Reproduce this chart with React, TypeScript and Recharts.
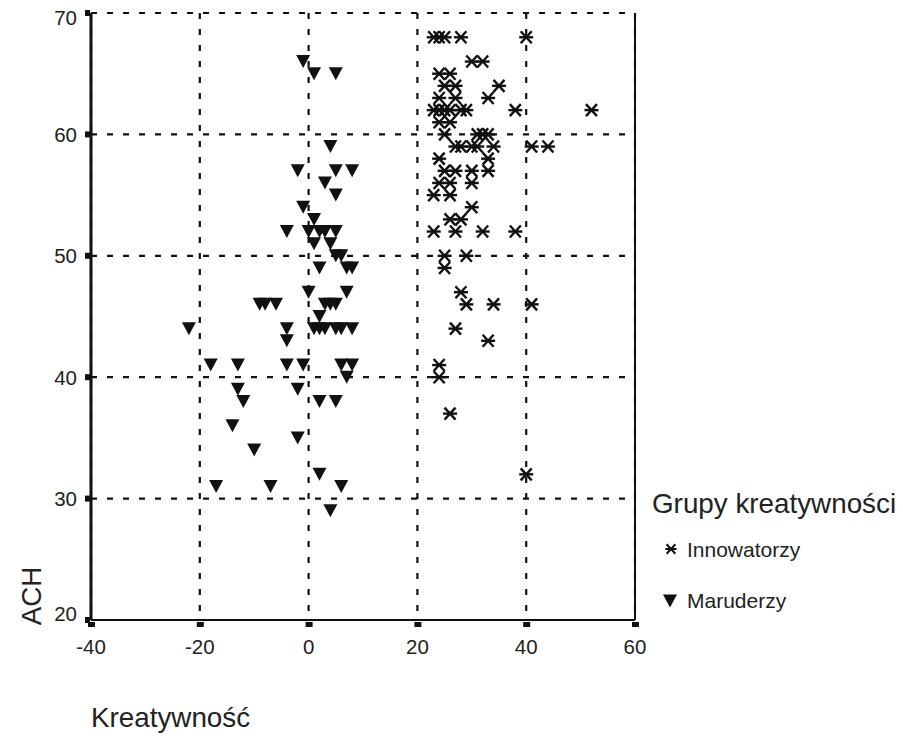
import React from 'react'
import {
  CartesianGrid,
  Legend,
  ReferenceLine,
  Scatter,
  ScatterChart,
  XAxis,
  YAxis,
} from 'recharts'

// Kreatywność (x) vs ACH (y)
const innowatorzy: [number, number][] = [
  [23, 68], [24, 68], [25, 68], [28, 68], [40, 68],
  [30, 66], [32, 66], [24, 65], [26, 65],
  [25, 64], [27, 64], [35, 64], [24, 63], [27, 63], [33, 63],
  [23, 62], [24, 62], [25, 62], [26, 62], [28, 62], [29, 62], [38, 62], [52, 62],
  [24, 61], [26, 61], [25, 60], [31, 60], [32, 60], [33, 60],
  [27, 59], [28, 59], [30, 59], [31, 59], [34, 59], [41, 59], [44, 59],
  [24, 58], [33, 58], [25, 57], [27, 57], [30, 57], [33, 57],
  [24, 56], [26, 56], [30, 56], [23, 55], [26, 55], [30, 54],
  [26, 53], [28, 53], [23, 52], [27, 52], [32, 52], [38, 52],
  [25, 50], [29, 50], [25, 49], [28, 47], [29, 46], [34, 46], [41, 46],
  [27, 44], [33, 43], [24, 41], [24, 40], [26, 37], [40, 32],
]

const maruderzy: [number, number][] = [
  [-1, 66], [1, 65], [5, 65], [4, 59], [-2, 57], [5, 57], [8, 57],
  [3, 56], [5, 55], [-1, 54], [1, 53],
  [-4, 52], [0, 52], [2, 52], [3, 52], [5, 52], [1, 51], [4, 51],
  [5, 50], [6, 50], [2, 49], [7, 49], [8, 49], [0, 47], [7, 47],
  [-9, 46], [-8, 46], [-6, 46], [3, 46], [4, 46], [5, 46], [2, 45],
  [-22, 44], [-4, 44], [1, 44], [2, 44], [3, 44], [5, 44], [6, 44], [8, 44],
  [-4, 43], [-18, 41], [-13, 41], [-4, 41], [-1, 41], [6, 41], [8, 41],
  [7, 40], [-13, 39], [-2, 39], [-12, 38], [2, 38], [5, 38],
  [-14, 36], [-2, 35], [-10, 34], [2, 32], [-17, 31], [-7, 31], [6, 31], [4, 29],
]

const xTicks = [-40, -20, 0, 20, 40, 60]
const yTicks = [20, 30, 40, 50, 60, 70]
const groupNames = ['Innowatorzy', 'Maruderzy']

const INK = '#111'
const FONT = '"Liberation Sans", Arial, sans-serif'

const toPoints = (arr: [number, number][]) => arr.map(([x, y]) => ({ x, y }))

function Asterisk({ cx, cy, small }: any) {
  const k = small ? 0.8 : 1
  return (
    <g stroke={INK} strokeWidth={small ? 2 : 2.4}>
      <line x1={cx - 7 * k} y1={cy} x2={cx + 7 * k} y2={cy} />
      <line x1={cx - 5.5 * k} y1={cy - 6 * k} x2={cx + 5.5 * k} y2={cy + 6 * k} />
      <line x1={cx - 5.5 * k} y1={cy + 6 * k} x2={cx + 5.5 * k} y2={cy - 6 * k} />
    </g>
  )
}

function Triangle({ cx, cy }: any) {
  return (
    <polygon
      points={`${cx - 7},${cy - 6.5} ${cx + 7},${cy - 6.5} ${cx},${cy + 6.5}`}
      fill={INK}
    />
  )
}

function XTick({ x, y, payload }: any) {
  return (
    <g>
      <rect x={x - 3} y={y + 2} width={7} height={5} fill={INK} />
      <text x={x} y={y + 34} textAnchor="middle" fontSize={20.5} fontFamily={FONT} fill="#222">
        {payload.value}
      </text>
    </g>
  )
}

function YTick({ x, y, payload }: any) {
  const shift = payload.value === 70 ? 5 : payload.value === 20 ? -6 : 0
  return (
    <g>
      <rect x={x - 6} y={y - 3} width={5} height={6} fill={INK} />
      <text
        x={x - 14}
        y={y + shift}
        dy="0.36em"
        textAnchor="end"
        fontSize={20.5}
        fontFamily={FONT}
        fill="#222"
      >
        {payload.value}
      </text>
    </g>
  )
}

function GroupLegend() {
  return (
    <svg width={263} height={150} style={{ display: 'block' }}>
      <text x={12} y={33} fontSize={27.8} fontFamily={FONT} fill="#222">
        Grupy kreatywności
      </text>
      <Asterisk cx={31} cy={69} small />
      <text x={47} y={77} fontSize={21} fontFamily={FONT} fill="#222">
        {groupNames[0]}
      </text>
      <Triangle cx={30} cy={121} />
      <text x={47} y={128} fontSize={21} fontFamily={FONT} fill="#222">
        {groupNames[1]}
      </text>
    </svg>
  )
}

export default function App() {
  return (
    <div style={{ position: 'absolute', left: 0, top: 0, width: 903, height: 736 }}>
      <ScatterChart
        width={903}
        height={736}
        margin={{ top: 13, left: 41, right: 268, bottom: 76 }}
      >
        <CartesianGrid stroke={INK} strokeWidth={2.2} strokeDasharray="6 10" />
        <XAxis
          type="number"
          dataKey="x"
          domain={[-40, 60]}
          ticks={xTicks}
          height={40}
          tickSize={0}
          tickMargin={0}
          tickLine={false}
          axisLine={{ stroke: INK, strokeWidth: 2 }}
          tick={XTick}
          label={{
            content: ({ viewBox }: any) => (
              <text
                x={viewBox.x}
                y={viewBox.y + 107}
                fontSize={27.8}
                fontFamily={FONT}
                fill="#222"
              >
                Kreatywność
              </text>
            ),
          }}
        />
        <YAxis
          type="number"
          dataKey="y"
          domain={[20, 70]}
          ticks={yTicks}
          width={50}
          tickSize={0}
          tickMargin={0}
          tickLine={false}
          axisLine={{ stroke: INK, strokeWidth: 3 }}
          tick={YTick}
          label={{
            content: () => (
              <text
                x={31}
                y={596}
                transform="rotate(-90 31 596)"
                textAnchor="middle"
                dominantBaseline="central"
                fontSize={27.8}
                fontFamily={FONT}
                fill="#222"
              >
                ACH
              </text>
            ),
          }}
        />
        <ReferenceLine x={60} stroke={INK} strokeWidth={2} ifOverflow="visible" />
        <Scatter
          name={groupNames[0]}
          data={toPoints(innowatorzy)}
          shape={Asterisk}
          isAnimationActive={false}
        />
        <Scatter
          name={groupNames[1]}
          data={toPoints(maruderzy)}
          shape={Triangle}
          isAnimationActive={false}
        />
        <Legend
          layout="horizontal"
          verticalAlign="middle"
          align="center"
          wrapperStyle={{ left: 640, top: 480, width: 263, height: 150 }}
          content={() => <GroupLegend />}
        />
      </ScatterChart>
    </div>
  )
}
